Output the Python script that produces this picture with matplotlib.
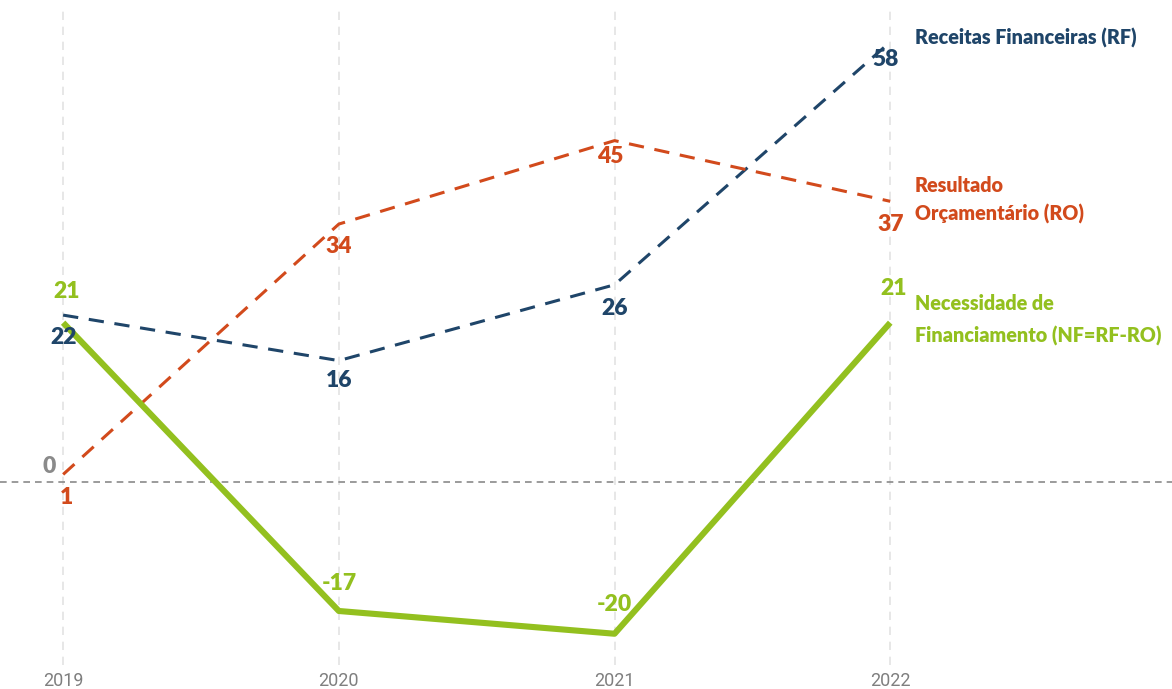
import matplotlib
matplotlib.use('Agg')
import matplotlib.pyplot as plt

# ── data ────────────────────────────────────────────────────────────────
years = [2019, 2020, 2021, 2022]
rf = [22, 16, 26, 58]     # Receitas Financeiras
ro = [1, 34, 45, 37]      # Resultado Orçamentário
nf = [21, -17, -20, 21]   # Necessidade de Financiamento

# ── style ───────────────────────────────────────────────────────────────
C_RF = '#1f4569'
C_RO = '#d24a1c'
C_NF = '#93c01f'
C_GRID = '#e3e3e3'
C_ZERO = '#8a8a8a'
C_TICK = '#7f7f7f'
FONT = ['Lato', 'DejaVu Sans']
plt.rcParams['font.family'] = FONT

W, H, DPI = 1172, 689, 100
fig = plt.figure(figsize=(W / DPI, H / DPI), dpi=DPI)
fig.patch.set_facecolor('white')
ax = fig.add_axes([0, (H - 665) / H, 1, (665 - 8) / H])

ax.set_xlim(2018.771, 2023.022)
ax.set_ylim(-24.12, 62.48)

for y in years:
    ax.axvline(y, color=C_GRID, lw=1.2, ls=(0, (5, 4)), zorder=0)
ax.axhline(0, color=C_ZERO, lw=1.2, ls=(0, (4, 3)), zorder=1)

ax.plot(years, rf, color=C_RF, lw=2.2, ls=(0, (5, 3.5)), zorder=3)
ax.plot(years, ro, color=C_RO, lw=2.2, ls=(0, (5, 3.5)), zorder=3)
ax.plot(years, nf, color=C_NF, lw=4.4, solid_capstyle='butt', zorder=4)

# value labels: offsets in pixels (dx, dy)
off_rf = [(0, -22), (0, -20), (0, -24), (-5, -18)]
off_ro = [(3, -23), (0, -22), (-4, -16), (0, -23)]
off_nf = [(3, 31), (0, 27), (0, 29), (3, 34)]
for vals, offs, col in ((rf, off_rf, C_RF), (ro, off_ro, C_RO), (nf, off_nf, C_NF)):
    for x, v, o in zip(years, vals, offs):
        ax.annotate(f'{v}', (x, v), xytext=o, textcoords='offset pixels',
                    ha='center', va='center', color=col, fontsize=16.5,
                    fontweight='heavy', zorder=5)
ax.annotate('0', (years[0], 0), xytext=(-14, 16), textcoords='offset pixels',
            ha='center', va='center', color=C_ZERO, fontsize=16.5,
            fontweight='heavy')

# series names at right
def px_text(x, y, s, col):
    fig.text(x / W, 1 - y / H, s, ha='left', va='center', color=col,
             fontsize=14.2, fontweight='heavy')

px_text(915, 38, 'Receitas Financeiras (RF)', C_RF)
px_text(915, 185, 'Resultado', C_RO)
px_text(915, 214, 'Orçamentário (RO)', C_RO)
px_text(915, 304, 'Necessidade de', C_NF)
px_text(915, 336, 'Financiamento (NF=RF-RO)', C_NF)

ax.set_xticks(years)
ax.set_xticklabels([str(y) for y in years], color=C_TICK, fontsize=13,
                   family=['Liberation Sans Narrow', 'Roboto', 'DejaVu Sans'])
ax.tick_params(axis='x', length=0, pad=5)
ax.set_yticks([])
for s in ax.spines.values():
    s.set_visible(False)

fig.savefig('out.png', dpi=DPI, facecolor='white')
